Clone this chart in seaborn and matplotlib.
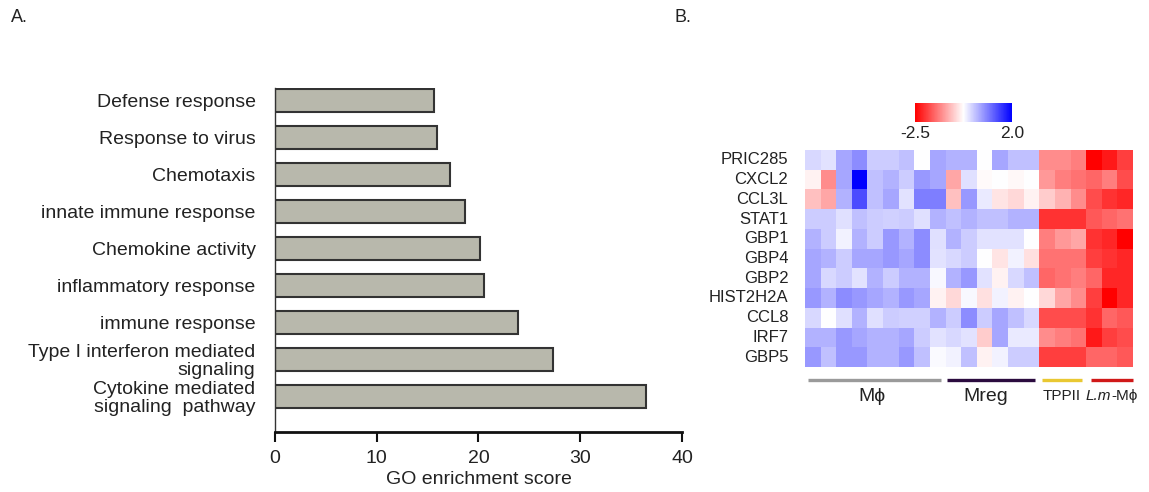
import numpy as np
import pandas as pd
import matplotlib
matplotlib.use("Agg")
import matplotlib.pyplot as plt
import matplotlib.transforms as mtransforms
from matplotlib.colors import LinearSegmentedColormap
import seaborn as sns

# ---------------- data ----------------
go_terms = ["Defense response", "Response to virus", "Chemotaxis",
            "innate immune response", "Chemokine activity",
            "inflammatory response", "immune response",
            "Type I interferon mediated\nsignaling",
            "Cytokine mediated\nsignaling  pathway"]
go_scores = [15.6, 15.9, 17.2, 18.7, 20.1, 20.5, 23.9, 27.3, 36.5]
x_ticks = [0, 10, 20, 30, 40]

genes = ["PRIC285", "CXCL2", "CCL3L", "STAT1", "GBP1", "GBP4", "GBP2",
         "HIST2H2A", "CCL8", "IRF7", "GBP5"]

PRIC285 = [0.09, 0.0, 0.54, 0.76, 0.2, 0.2, 0.31, -0.25, 0.54, 0.43, 0.43, -0.25, 0.54, 0.31, 0.31, -1.26, -1.26, -1.38, -2.5, -2.28, -1.94]
CXCL2 = [-0.36, -1.26, 0.54, 2.0, 0.31, 0.43, 0.2, 0.65, 0.54, -1.04, 0.02, -0.3, -0.25, -0.32, -0.25, -1.15, -1.38, -1.49, -1.6, -1.38, -1.83]
CCL3L = [-0.81, -1.04, 0.43, 1.33, 0.31, 0.54, 0.0, 0.88, 0.88, -0.81, 0.65, -0.07, -0.48, -0.59, -0.36, -0.7, -0.93, -1.26, -1.83, -2.05, -2.16]
STAT1 = [0.2, 0.2, 0.02, 0.31, 0.2, 0.16, 0.2, 0.02, 0.43, 0.31, 0.43, 0.31, 0.31, 0.43, 0.43, -2.05, -2.05, -2.05, -1.71, -1.6, -1.49]
GBP1 = [0.43, 0.2, -0.14, 0.43, 0.2, 0.65, 0.43, 0.76, 0.02, 0.43, 0.2, 0.0, 0.0, 0.0, -0.25, -1.38, -1.15, -1.04, -2.05, -2.16, -2.5]
GBP4 = [0.54, 0.43, 0.2, 0.54, 0.54, 0.65, 0.54, 0.76, 0.0, 0.09, 0.2, -0.25, -0.48, -0.14, -0.52, -1.49, -1.49, -1.49, -1.94, -2.05, -2.16]
GBP2 = [0.54, 0.09, 0.2, 0.0, 0.43, 0.2, 0.43, 0.43, -0.18, 0.43, 0.65, 0.0, -0.36, 0.09, 0.31, -1.6, -1.49, -1.38, -1.6, -2.16, -2.16]
HIST2H2A = [0.65, 0.43, 0.76, 0.65, 0.54, 0.43, 0.65, 0.54, -0.36, -0.59, -0.18, -0.52, -0.14, -0.36, -0.25, -0.59, -1.04, -1.26, -1.94, -2.5, -2.16]
CCL8 = [0.09, -0.25, 0.02, 0.43, 0.02, 0.2, 0.16, 0.16, 0.43, 0.2, 0.76, 0.2, 0.54, 0.31, 0.09, -1.83, -1.83, -1.83, -2.05, -1.6, -1.71]
IRF7 = [0.43, 0.43, 0.65, 0.54, 0.43, 0.43, 0.54, 0.2, 0.0, 0.09, 0.0, -0.7, 0.54, -0.07, -0.07, -1.26, -1.38, -1.49, -2.28, -1.94, -1.83]
GBP5 = [0.65, 0.31, 0.65, 0.65, 0.43, 0.43, 0.65, 0.31, -0.2, -0.14, 0.31, -0.36, -0.14, 0.2, 0.2, -1.94, -1.94, -1.94, -1.6, -1.6, -1.71]

groups = ["M\u03d5", "Mreg", "TPPII", "L.m-M\u03d5"]
group_sizes = [9, 6, 3, 3]
group_colors = ["#9a9a9a", "#2b0b3f", "#e9c832", "#d01818"]
cbar_ticks = [-2.5, 2.0]

# ---------------- figure ----------------
sns.set_style("white")
plt.rcParams["font.family"] = ["Liberation Sans", "DejaVu Sans"]

W, H = 1149, 492
fig = plt.figure(figsize=(W / 100, H / 100), dpi=100)


def px_axes(x0, y0, x1, y1):
    return fig.add_axes([x0 / W, (H - y1) / H, (x1 - x0) / W, (y1 - y0) / H])


# ---- panel A: bar chart ----
axA = px_axes(275, 88, 682, 432)
dfA = pd.DataFrame({"term": go_terms, "score": go_scores})
sns.barplot(data=dfA, x="score", y="term", orient="h", color="#b8b8ac",
            edgecolor="#333333", linewidth=1.5, width=0.62, saturation=1,
            ax=axA)
axA.set_xlim(0, 40)
axA.set_ylim(8.97, -0.33)
axA.set_xticks(x_ticks)
axA.set_xticklabels([str(t) for t in x_ticks])
axA.set_xlabel("GO enrichment score", fontsize=14, color="#222222", labelpad=3)
axA.set_ylabel("")
for s in ["top", "right"]:
    axA.spines[s].set_visible(False)
axA.spines["left"].set_color("#333333")
axA.spines["left"].set_linewidth(1.0)
axA.spines["bottom"].set_color("#111111")
axA.spines["bottom"].set_linewidth(2.0)
axA.tick_params(axis="x", direction="out", length=7, width=1.5,
                labelsize=14, colors="#111111", labelcolor="#222222", pad=6,
                bottom=True)
axA.tick_params(axis="y", length=0, labelsize=14, labelcolor="#222222", pad=14)
for lab in axA.get_yticklabels():
    lab.set_multialignment("right")
    lab.set_linespacing(1.1)

# ---- panel B: heatmap ----
heat = pd.DataFrame([PRIC285, CXCL2, CCL3L, STAT1, GBP1, GBP4, GBP2,
                     HIST2H2A, CCL8, IRF7, GBP5], index=genes)
cmap = LinearSegmentedColormap.from_list("rwb", ["#ff0000", "#ffffff", "#0000ff"])
axB = px_axes(805, 150, 1133, 367)
cax = px_axes(915, 103, 1012, 122)
sns.heatmap(heat, ax=axB, cmap=cmap, vmin=-2.5, vmax=2.0, cbar_ax=cax,
            cbar_kws={"orientation": "horizontal", "ticks": cbar_ticks},
            xticklabels=False, yticklabels=genes)
axB.tick_params(axis="y", length=0, labelsize=12, labelcolor="#222222",
                pad=12, labelrotation=0)
for lab in axB.get_yticklabels():
    lab.set_ha("right")
cax.tick_params(length=0, labelsize=12.5, labelcolor="#222222", pad=3)
cax.set_xticklabels(["-2.5", "2.0"])
for s in cax.spines.values():
    s.set_visible(False)

# group bars and labels under heatmap
trans = mtransforms.blended_transform_factory(axB.transData, axB.transAxes)
start = 0
gaps = [(0.2, 0.3), (0.1, 0.3), (0.2, 0.25), (0.3, 0.0)]
for name, n, col, (g0, g1) in zip(groups, group_sizes, group_colors, gaps):
    axB.plot([start + g0, start + n - g1], [-0.06, -0.06], color=col, lw=2.4,
             transform=trans, clip_on=False, solid_capstyle="butt")
    start += n

axB.text(4.3, -0.135, groups[0], transform=trans, ha="center", va="center",
         fontsize=14, color="#222222")
axB.text(11.6, -0.135, groups[1], transform=trans, ha="center", va="center",
         fontsize=14, color="#222222")
axB.text(16.45, -0.135, groups[2], transform=trans, ha="center", va="center",
         fontsize=11, color="#222222")
lm_italic, lm_rest = groups[3].split("-", 1)
axB.text(19.6, -0.135, lm_italic, transform=trans, ha="right", va="center",
         fontsize=11, color="#222222", style="italic")
axB.text(19.6, -0.135, "-" + lm_rest, transform=trans, ha="left", va="center",
         fontsize=11, color="#222222")

# panel labels
fig.text(11 / W, 1 - 18 / H, "A.", fontsize=13, va="center", ha="left", color="#222222")
fig.text(674 / W, 1 - 18 / H, "B.", fontsize=13, va="center", ha="left", color="#222222")

fig.savefig("out.png", dpi=100)
